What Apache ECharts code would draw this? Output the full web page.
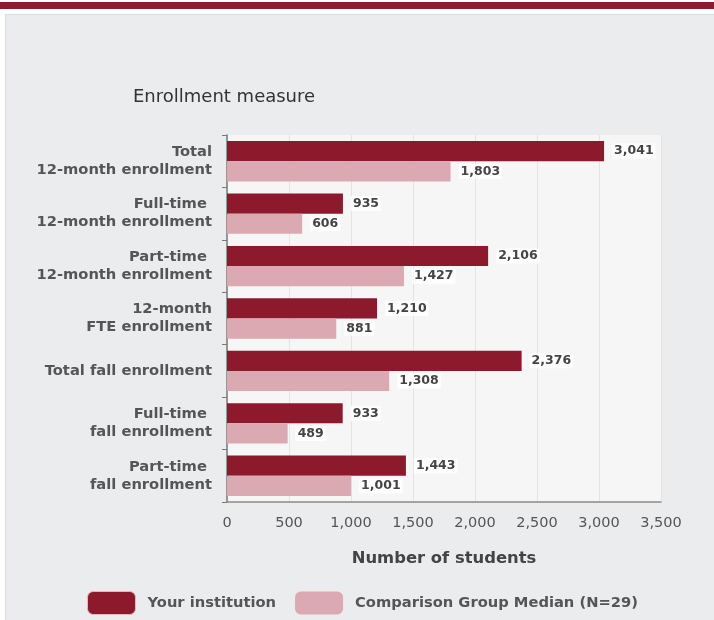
<!DOCTYPE html>
<html>
<head>
<meta charset="utf-8">
<script src="https://cdn.jsdelivr.net/npm/echarts@6/dist/echarts.min.js"></script>
<style>
  html,body{margin:0;padding:0;background:#fff;}
  #band{position:absolute;left:0;top:2px;width:714px;height:7px;background:#8a1a2d;}
  #panel{position:absolute;left:5px;top:14px;width:709px;height:606px;background:#ebecee;border-left:1px solid #dcdde0;border-top:1px solid #dcdde0;box-sizing:border-box;}
  #chart{position:absolute;left:0;top:0;width:714px;height:620px;}
</style>
</head>
<body>
<div id="band"></div>
<div id="panel"></div>
<div id="chart"></div>
<script>
const categories = [
  "Total\n12-month enrollment",
  "Full-time \n12-month enrollment",
  "Part-time \n12-month enrollment",
  "12-month\nFTE enrollment",
  "Total fall enrollment",
  "Full-time \nfall enrollment",
  "Part-time \nfall enrollment"
];
const yourInstitution = [3041, 935, 2106, 1210, 2376, 933, 1443];
const comparisonMedian = [1803, 606, 1427, 881, 1308, 489, 1001];
const xTicks = { min: 0, max: 3500, interval: 500 };

const fontFam = "'DejaVu Sans', sans-serif";
const fmt = v => v.toLocaleString('en-US');

const chart = echarts.init(document.getElementById('chart'), null, {renderer: 'canvas'});
const labelStyle = {
  show: true,
  position: 'right',
  distance: 8,
  color: '#444',
  fontSize: 12.5,
  fontWeight: 'bold',
  fontFamily: fontFam,
  backgroundColor: 'rgba(255,255,255,0.85)',
  padding: [1, 2],
  formatter: p => fmt(p.value)
};
chart.setOption({
  animation: false,
  backgroundColor: 'transparent',
  title: {
    text: 'Enrollment measure',
    left: 128, top: 83,
    textStyle: {fontSize: 18, fontWeight: 'normal', color: '#333', fontFamily: fontFam}
  },
  grid: {
    left: 227, right: 53, top: 135, bottom: 118,
    show: true, backgroundColor: '#f6f6f7', borderWidth: 0
  },
  legend: {
    left: 87, top: 591, padding: 0,
    itemWidth: 48, itemHeight: 23, itemGap: 19,
    icon: 'roundRect',
    textStyle: {fontSize: 14.7, color: '#555', fontFamily: fontFam, fontWeight: 'bold', padding: [0,0,0,7]},
    data: [
      {name: 'Your institution', itemStyle: {borderColor: '#e3b9c0', borderWidth: 1}},
      {name: 'Comparison Group Median (N=29)'}
    ]
  },
  xAxis: {
    type: 'value',
    min: xTicks.min, max: xTicks.max, interval: xTicks.interval,
    name: 'Number of students',
    nameLocation: 'middle',
    nameGap: 49,
    nameTextStyle: {fontSize: 16.4, fontWeight: 'bold', color: '#444', fontFamily: fontFam},
    axisLine: {show: true, lineStyle: {color: '#8a8a8a', width: 1.5}},
    axisTick: {show: false},
    axisLabel: {fontSize: 14.5, color: '#555', fontFamily: fontFam, margin: 14, formatter: v => fmt(v)},
    splitLine: {show: true, lineStyle: {color: '#e4e4e6', width: 1}}
  },
  yAxis: {
    type: 'category',
    inverse: true,
    data: categories,
    axisLine: {show: true, lineStyle: {color: '#7a7a7a', width: 1.5}},
    axisTick: {show: true, length: 5, lineStyle: {color: '#7a7a7a'}},
    axisLabel: {fontSize: 14.7, fontWeight: 'bold', color: '#555', fontFamily: fontFam, lineHeight: 18, margin: 15, align: 'right'},
    splitLine: {show: false}
  },
  series: [
    {
      name: 'Your institution', type: 'bar', data: yourInstitution,
      barGap: '0%', barCategoryGap: '23%',
      itemStyle: {color: '#8c1a2c'},
      label: labelStyle
    },
    {
      name: 'Comparison Group Median (N=29)', type: 'bar', data: comparisonMedian,
      itemStyle: {color: '#dba9b1'},
      label: labelStyle
    }
  ]
});
</script>
</body>
</html>
